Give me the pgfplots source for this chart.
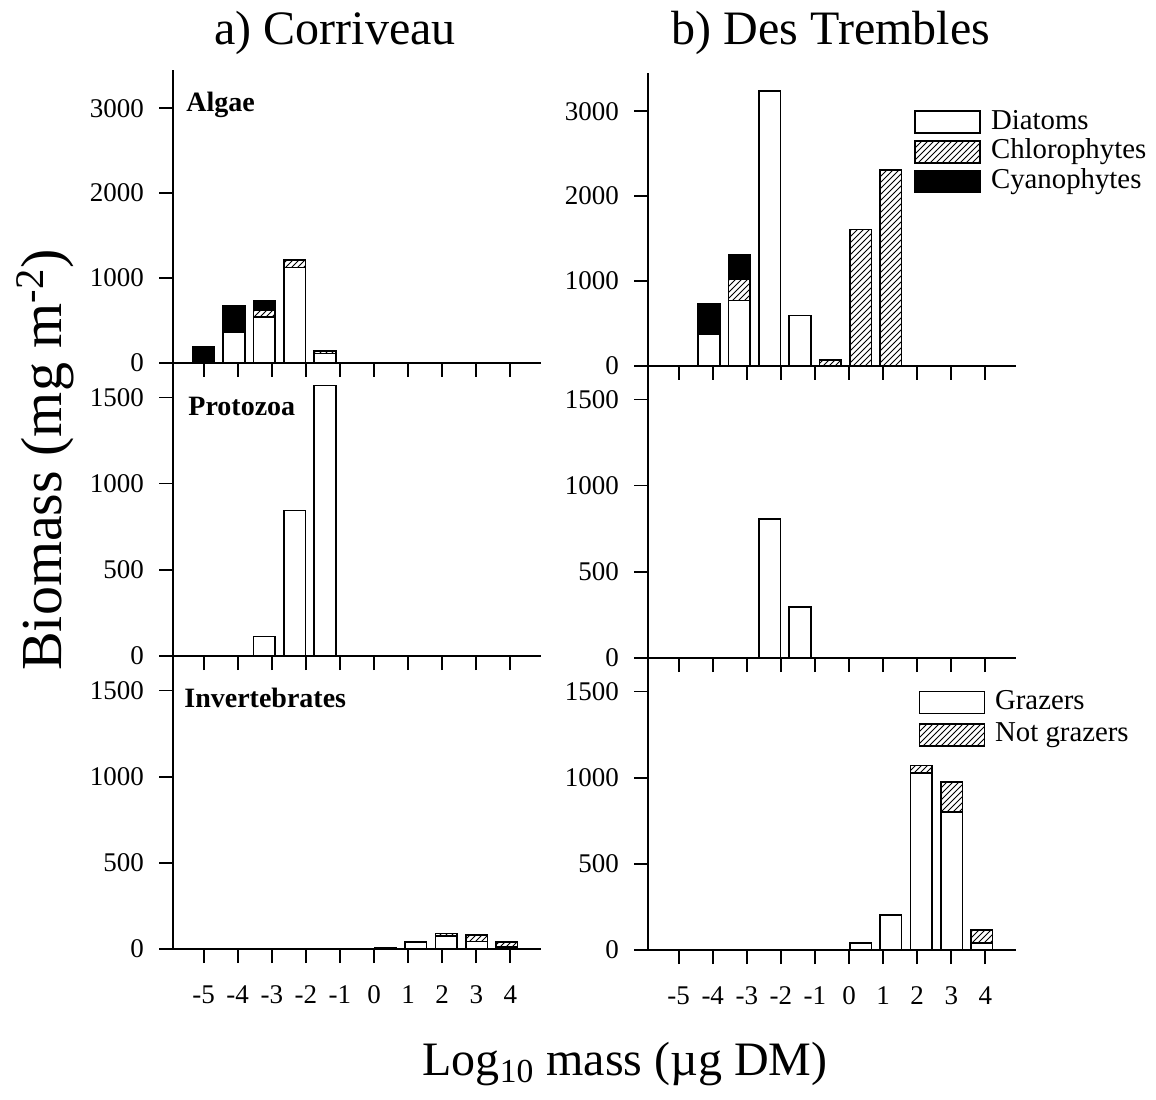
\documentclass[border=0pt]{standalone}
\usepackage{fontspec}
\setmainfont{Liberation Serif}
\usepackage{pgfplots}
\pgfplotsset{compat=1.18}
\usetikzlibrary{patterns}

\pgfplotsset{
 panel/.style={
  scale only axis, width=184pt, height=146.5pt,
  axis lines=left, axis line style={-, line width=0.85pt},
  xmin=-5.9, xmax=4.9, ymin=0,
  xtick={-5,-4,-3,-2,-1,0,1,2,3,4}, xticklabels={},
  tick align=outside, major tick length=7pt,
  every tick/.style={black, line width=0.85pt},
  tick label style={font=\fontsize{13.5}{15}\selectfont},
  yticklabel style={xshift=-4pt},
  /pgf/number format/assume math mode=true,
  /pgf/number format/1000 sep={},
  ybar stacked, bar width=0.63,
  clip=false,
  legend cell align=left,
 },
 toppanel/.style={panel, ymax=3450, ytick={0,1000,2000,3000}},
 lowpanel/.style={panel, ymax=1700, ytick={0,500,1000,1500}},
 botlabels/.style={xticklabels={-5,-4,-3,-2,-1,0,1,2,3,4},
   xticklabel style={yshift=-7pt, text height=9.5pt, text depth=0pt}},
 myleg/.style={legend image code/.code={\draw[##1] (0pt,-5.5pt) rectangle (32.5pt,5.5pt);}},
 dia/.style={draw=black, fill=white, line width=0.8pt, myleg},
 chl/.style={draw=black, pattern=north east lines, line width=0.8pt, myleg},
 cya/.style={draw=black, fill=black, line width=0.8pt, myleg},
 legsty/.style={draw=none, fill=none, inner sep=0pt, row sep=1.8pt,
   nodes={inner xsep=5pt, inner ysep=0pt, text height=10pt, text depth=3pt},
   font=\fontsize{14.4}{16}\selectfont, anchor=north west},
}

\begin{document}
\begin{tikzpicture}
\useasboundingbox (0,0) rectangle (578pt,549.5pt);

% ---------- a) Corriveau ----------
\begin{axis}[toppanel, at={(86.5pt,368pt)}, anchor=south west]
\addplot[dia] coordinates {(-5,0) (-4.11,360) (-3.22,540) (-2.33,1125) (-1.44,110)};
\addplot[chl] coordinates {(-5,0) (-4.11,0) (-3.22,80) (-2.33,85) (-1.44,30)};
\addplot[cya] coordinates {(-5,190) (-4.11,315) (-3.22,115) (-2.33,0) (-1.44,0)};
\end{axis}

\begin{axis}[lowpanel, at={(86.5pt,221.5pt)}, anchor=south west]
\addplot[dia] coordinates {(-3.22,112) (-2.33,845) (-1.44,1570)};
\end{axis}

\begin{axis}[lowpanel, botlabels, at={(86.5pt,75pt)}, anchor=south west]
\addplot[dia] coordinates {(0.34,6) (1.23,39) (2.12,75) (3.01,44) (3.9,12)};
\addplot[chl] coordinates {(0.34,0) (1.23,0) (2.12,16) (3.01,39) (3.9,30)};
\end{axis}

% ---------- b) Des Trembles ----------
\begin{axis}[toppanel, at={(324pt,366.5pt)}, anchor=south west,
  legend style={legsty, at={(rel axis cs:0.723,0.878)}}]
\addplot[dia] coordinates {(-4.11,376) (-3.22,770) (-2.33,3235) (-1.44,596) (-0.55,0) (0.34,0) (1.23,0)};
\addlegendentry{Diatoms}
\addplot[chl] coordinates {(-4.11,0) (-3.22,250) (-2.33,0) (-1.44,0) (-0.55,70) (0.34,1608) (1.23,2306)};
\addlegendentry{Chlorophytes}
\addplot[cya] coordinates {(-4.11,354) (-3.22,285) (-2.33,0) (-1.44,0) (-0.55,0) (0.34,0) (1.23,0)};
\addlegendentry{Cyanophytes}
\end{axis}

\begin{axis}[lowpanel, at={(324pt,220.5pt)}, anchor=south west]
\addplot[dia] coordinates {(-2.33,808) (-1.44,297)};
\end{axis}

\begin{axis}[lowpanel, botlabels, at={(324pt,74.5pt)}, anchor=south west,
  legend style={legsty, row sep=3.3pt, at={(rel axis cs:0.734,0.891)}}]
\addplot[dia] coordinates {(0.34,39) (1.23,203) (2.12,1027) (3.01,801) (3.9,39)};
\addlegendentry{Grazers}
\addplot[chl] coordinates {(0.34,0) (1.23,0) (2.12,44) (3.01,174) (3.9,77)};
\addlegendentry{Not grazers}
\end{axis}

% ---------- texts ----------
\node[anchor=base, font=\fontsize{24}{28}\selectfont] at (167.5pt,527pt) {a) Corriveau};
\node[anchor=base, font=\fontsize{24}{28}\selectfont] at (415.5pt,527pt) {b) Des Trembles};
\node[anchor=base west, inner sep=0pt, font=\fontsize{14}{16}\selectfont\bfseries] at (93pt,493.5pt) {Algae};
\node[anchor=base west, inner sep=0pt, font=\fontsize{14}{16}\selectfont\bfseries] at (94pt,341.5pt) {Protozoa};
\node[anchor=base west, inner sep=0pt, font=\fontsize{14}{16}\selectfont\bfseries] at (92pt,196pt) {Invertebrates};
\node[rotate=90, font=\fontsize{29}{33}\selectfont] at (22.5pt,319.5pt) {Biomass (mg m\textsuperscript{-2})};
\node[anchor=base, font=\fontsize{24}{28}\selectfont] at (312.5pt,12pt) {Log\textsubscript{10} mass (µg DM)};
\end{tikzpicture}
\end{document}
